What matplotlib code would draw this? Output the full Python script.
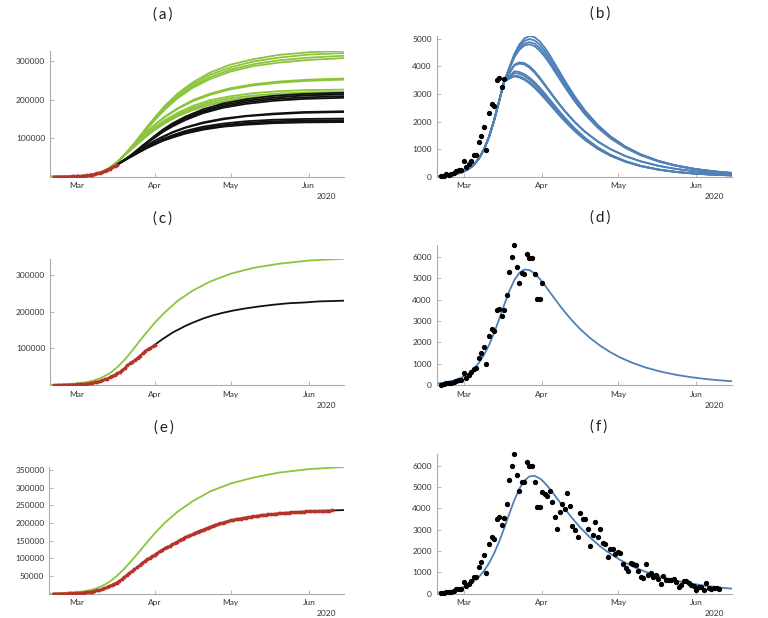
import matplotlib
matplotlib.use("Agg")
import matplotlib.pyplot as plt
import numpy as np

plt.rcParams.update({
    'font.family': ['Lato', 'DejaVu Sans'],
    'font.size': 6,
})

GREEN = "#8cc43c"
BLACK = "#111111"
RED = "#b5342a"
BLUE = "#4f80b6"
AXIS = "#ababab"
TEXT = "#333333"

# x axis: days counted from 20 Feb 2020 (day 10 = 1 Mar)
MONTH_DAYS = [10, 41, 71, 102]
MONTHS = ["Mar", "Apr", "May", "Jun"]

# reported daily new cases, 21 Feb .. 10 Jun
BASE_CASES = 3
DAILY = [17, 42, 93, 74, 93, 131, 202, 233, 240,
         566, 342, 466, 587, 769, 778, 1247, 1492, 1797, 977,
         2313, 2651, 2547, 3497, 3590, 3233, 3526, 4207, 5322, 5986,
         6557, 5560, 4789, 5249, 5210, 6153, 5959, 5974, 5217, 4050, 4053,
         4782, 4668, 4585, 4805, 4316, 3599, 3039, 3836, 4204, 3951,
         4694, 4092, 3153, 2972, 2667, 3786, 3493, 3491, 3047, 2256,
         2729, 3370, 2646, 3021, 2357, 2324, 1739, 2091, 2086, 1872,
         1965, 1900, 1389, 1221, 1075, 1444, 1401, 1327, 1083, 802,
         744, 1402, 888, 992, 789, 875, 675, 451, 813, 665,
         642, 652, 669, 531, 300, 397, 584, 593, 516, 416, 355,
         178, 318, 321, 177, 518, 270, 197, 280, 283, 202]

# (b) fitted daily curves: common rise, then one branch per fit
RISE_DAYS = [0, 3, 6, 9, 12, 14, 16, 18, 20, 22, 24]
RISE_VALS = [21, 40, 77, 148, 283, 434, 660, 987, 1444, 2039, 2740]
B_DAYS = [26, 30, 32, 34, 36, 38, 40, 42, 44, 47, 50, 54, 58, 63, 68, 74, 80, 87, 94, 102, 110, 116]
B_FITS = [
    [3457, 4447, 4792, 5013, 5099, 5057, 4909, 4683, 4407, 3947, 3481, 2903, 2399, 1878, 1466, 1087, 806, 568, 400, 268, 180, 133],
    [3457, 4400, 4721, 4921, 4990, 4938, 4788, 4566, 4297, 3853, 3405, 2848, 2362, 1859, 1458, 1088, 811, 576, 408, 276, 187, 139],
    [3457, 4363, 4653, 4827, 4880, 4821, 4671, 4453, 4192, 3762, 3327, 2786, 2312, 1820, 1428, 1066, 795, 564, 400, 270, 183, 136],
    [3457, 4325, 4599, 4758, 4799, 4731, 4575, 4356, 4096, 3671, 3245, 2715, 2253, 1773, 1391, 1038, 774, 549, 390, 263, 178, 133],
    [3457, 4059, 4142, 4117, 4003, 3824, 3602, 3358, 3106, 2735, 2389, 1981, 1635, 1283, 1005, 749, 559, 396, 281, 190, 128, 96],
    [3457, 4031, 4099, 4066, 3950, 3772, 3554, 3314, 3067, 2702, 2362, 1959, 1618, 1270, 995, 742, 553, 393, 279, 188, 127, 95],
    [3457, 3820, 3793, 3715, 3591, 3428, 3236, 3024, 2802, 2464, 2139, 1746, 1408, 1065, 800, 564, 397, 263, 174, 109, 68, 48],
    [3457, 3760, 3728, 3647, 3520, 3357, 3165, 2955, 2736, 2404, 2085, 1700, 1370, 1036, 778, 549, 386, 256, 169, 106, 66, 46],
    [3457, 3669, 3634, 3551, 3426, 3266, 3080, 2877, 2665, 2346, 2039, 1668, 1349, 1025, 773, 549, 389, 259, 173, 109, 68, 48],
    [3457, 3638, 3598, 3511, 3383, 3222, 3035, 2833, 2622, 2306, 2003, 1637, 1324, 1005, 758, 538, 381, 254, 170, 107, 67, 47],
]

# (a) forecast cumulative cases (thousands) and totals incl. unreported (green)
K_DAYS = [26, 28, 30, 32, 34, 36, 38, 41, 44, 48, 53, 60, 68, 77, 88, 100, 116]
K_FITS = [
    [32, 40, 49, 59, 70, 81, 91, 107, 122, 139, 156, 175, 190, 201, 210, 215, 218],
    [32, 40, 49, 59, 69, 80, 90, 105, 119, 136, 153, 171, 186, 197, 205, 211, 214],
    [32, 40, 49, 58, 68, 79, 89, 103, 117, 133, 150, 168, 182, 193, 201, 206, 209],
    [32, 40, 49, 58, 68, 78, 88, 102, 116, 131, 147, 165, 179, 189, 197, 202, 205],
    [32, 40, 48, 57, 66, 74, 82, 94, 104, 116, 128, 141, 151, 158, 164, 168, 170],
    [32, 40, 48, 57, 65, 74, 82, 93, 103, 115, 127, 139, 149, 157, 162, 166, 168],
    [32, 40, 48, 56, 63, 71, 78, 88, 98, 108, 119, 130, 138, 144, 148, 150, 151],
    [32, 39, 47, 55, 63, 70, 77, 87, 96, 106, 116, 127, 134, 140, 144, 146, 147],
    [32, 39, 47, 54, 62, 69, 76, 85, 94, 103, 113, 124, 131, 137, 141, 143, 144],
    [32, 39, 47, 54, 61, 68, 75, 84, 93, 102, 112, 122, 130, 135, 139, 141, 142],
]
G_DAYS = [0, 10, 14, 17, 20, 23, 26, 29, 32, 35, 38, 41, 45, 50, 56, 63, 71, 80, 90, 102, 116]
G_FITS = [
    [0, 1, 4, 7, 13, 23, 38, 58, 81, 106, 131, 155, 185, 216, 245, 271, 291, 305, 316, 323, 327],
    [0, 1, 4, 7, 13, 23, 38, 58, 80, 104, 129, 152, 181, 211, 240, 265, 284, 299, 309, 317, 321],
    [0, 1, 4, 7, 13, 23, 38, 57, 79, 103, 127, 149, 177, 207, 235, 259, 278, 292, 302, 309, 314],
    [0, 1, 3, 7, 13, 23, 38, 57, 79, 102, 125, 148, 175, 204, 231, 254, 273, 287, 296, 303, 308],
    [0, 1, 4, 7, 13, 23, 38, 58, 78, 99, 118, 136, 157, 178, 199, 216, 230, 240, 247, 252, 255],
    [0, 1, 4, 7, 13, 23, 38, 58, 78, 98, 117, 134, 155, 176, 196, 213, 227, 237, 244, 249, 252],
    [0, 1, 4, 7, 13, 23, 38, 57, 76, 95, 112, 128, 147, 166, 184, 199, 209, 217, 222, 225, 226],
    [0, 1, 4, 7, 13, 23, 38, 57, 75, 93, 110, 125, 144, 162, 179, 194, 204, 211, 216, 219, 220],
    [0, 1, 3, 7, 13, 23, 38, 56, 74, 91, 108, 123, 140, 159, 175, 189, 199, 207, 211, 214, 216],
    [0, 1, 3, 7, 13, 23, 38, 56, 74, 91, 107, 122, 139, 157, 173, 187, 197, 204, 208, 211, 213],
]

# (d), (f) fitted daily curves
FIT_DAYS = [0, 3, 6, 9, 12, 14, 16, 18, 20, 22, 24, 26, 28, 30, 32, 34, 36, 38, 40, 41,
            42, 44, 46, 48, 50, 53, 56, 60, 64, 68, 72, 77, 82, 88, 94, 100, 106, 111, 116]
D_FIT = [76, 126, 207, 340, 554, 763, 1043, 1410, 1876, 2441, 3086, 3763, 4401, 4921, 5267, 5420, 5397,
         5240, 4992, 4847, 4692, 4370, 4044, 3726, 3424, 3006, 2633, 2203, 1842, 1539, 1285, 1027, 820,
         626, 478, 365, 278, 222, 177]
F_FIT = [61, 99, 161, 262, 422, 579, 789, 1068, 1430, 1887, 2439, 3070, 3737, 4377, 4916, 5297, 5496,
         5521, 5405, 5308, 5190, 4914, 4606, 4288, 3972, 3522, 3111, 2628, 2215, 1867, 1572, 1268, 1023,
         790, 611, 472, 364, 294, 237]

# (c), (e) cumulative forecasts (thousands)
C_DAYS = [41, 42, 44, 46, 48, 50, 53, 56, 60, 64, 68, 72, 77, 82, 88, 94, 100, 106, 111, 116]
C_BLACK = [111, 116, 126, 135, 144, 151, 162, 171, 182, 191, 198, 204, 210, 215, 220, 224, 226, 229, 230, 231]
C_GREEN = [0, 4, 8, 13, 21, 32, 49, 70, 95, 122, 147, 172, 200, 231, 259, 284, 305, 321, 332, 341, 346]
E_DAYS = [111, 112, 113, 114, 115, 116]
E_BLACK = [235.8, 236.0, 236.3, 236.6, 236.8, 237.1]
E_GREEN = [0, 4, 8, 13, 21, 33, 50, 71, 95, 120, 146, 171, 201, 232, 262, 290, 312, 329, 343, 353, 359]

days = np.arange(1, len(DAILY) + 1)
cum = BASE_CASES + np.cumsum(DAILY)

W, H = 768, 618
fig = plt.figure(figsize=(W / 100, H / 100), dpi=100)


def panel(l, r, t, b):
    return fig.add_axes([l / W, 1 - b / H, (r - l) / W, (b - t) / H])


def style(ax, yticks, top):
    for s in ["top", "right"]:
        ax.spines[s].set_visible(False)
    for s in ["left", "bottom"]:
        ax.spines[s].set_color(AXIS)
        ax.spines[s].set_linewidth(0.8)
    ax.tick_params(direction="in", length=3, width=0.6, color=AXIS,
                   labelsize=6, labelcolor=TEXT)
    ax.tick_params(axis="x", pad=4)
    ax.tick_params(axis="y", pad=3.5)
    ax.set_xticks(MONTH_DAYS)
    ax.set_xticklabels(MONTHS)
    ax.set_yticks(yticks)
    ax.set_yticklabels([str(v) for v in yticks])
    ax.set_xlim(-0.7, 116)
    ax.set_ylim(0, top)
    ax.annotate("2020", xy=(109, 0), xycoords=("data", "axes fraction"),
                xytext=(0, -20), textcoords="offset pixels",
                ha="center", va="center", fontsize=6, color=TEXT)


def red_data(ax, n):
    ax.plot(days[:n], cum[:n], color=RED, lw=1.5, marker="o", ms=1.8, zorder=4)


def dots(ax, n):
    ax.plot(days[:n], DAILY[:n], "o", color="black", ms=2.8, clip_on=False, zorder=4)


k = 1000
# (a)
ax = panel(50, 344, 50.7, 176.8)
for g in G_FITS:
    ax.plot(G_DAYS, np.array(g) * k, color=GREEN, lw=1.3)
for c in K_FITS:
    ax.plot(K_DAYS, np.array(c) * k, color=BLACK, lw=1.3)
red_data(ax, 26)
style(ax, [100000, 200000, 300000], max(max(g) for g in G_FITS) * k)

# (b)
ax = panel(436.7, 731.7, 36, 176.7)
for fit in B_FITS:
    ax.plot(RISE_DAYS + B_DAYS, RISE_VALS + fit, color=BLUE, lw=1.3)
dots(ax, 26)
style(ax, [0, 1000, 2000, 3000, 4000, 5000], max(max(f) for f in B_FITS))

# (c)
ax = panel(50, 344.3, 258.7, 385)
ax.plot(G_DAYS, np.array(C_GREEN) * k, color=GREEN, lw=1.3)
ax.plot(C_DAYS, np.array(C_BLACK) * k, color=BLACK, lw=1.3)
red_data(ax, 41)
style(ax, [100000, 200000, 300000], max(C_GREEN) * k)

# (d)
ax = panel(436.7, 731.7, 245.3, 385)
ax.plot(FIT_DAYS, D_FIT, color=BLUE, lw=1.3)
dots(ax, 41)
style(ax, [0, 1000, 2000, 3000, 4000, 5000, 6000], max(DAILY[:41]))

# (e)
ax = panel(49.3, 344.3, 467, 593.7)
ax.plot(G_DAYS, np.array(E_GREEN) * k, color=GREEN, lw=1.3)
ax.plot(E_DAYS, np.array(E_BLACK) * k, color=BLACK, lw=1.3)
red_data(ax, len(DAILY))
style(ax, [50000, 100000, 150000, 200000, 250000, 300000, 350000], max(E_GREEN) * k)

# (f)
ax = panel(436.7, 731.7, 453.7, 593.7)
ax.plot(FIT_DAYS, F_FIT, color=BLUE, lw=1.3)
dots(ax, len(DAILY))
style(ax, [0, 1000, 2000, 3000, 4000, 5000, 6000], max(DAILY))

for lab, x, y in [("a", 163, 15), ("b", 600, 14), ("c", 163, 219),
                  ("d", 600, 218), ("e", 164, 428), ("f", 599, 427)]:
    fig.text(x / W, 1 - y / H, "(\u2009%s\u2009)" % lab, ha="center", va="center",
             fontsize=11, color="#222222")

fig.savefig("out.png", dpi=100)
